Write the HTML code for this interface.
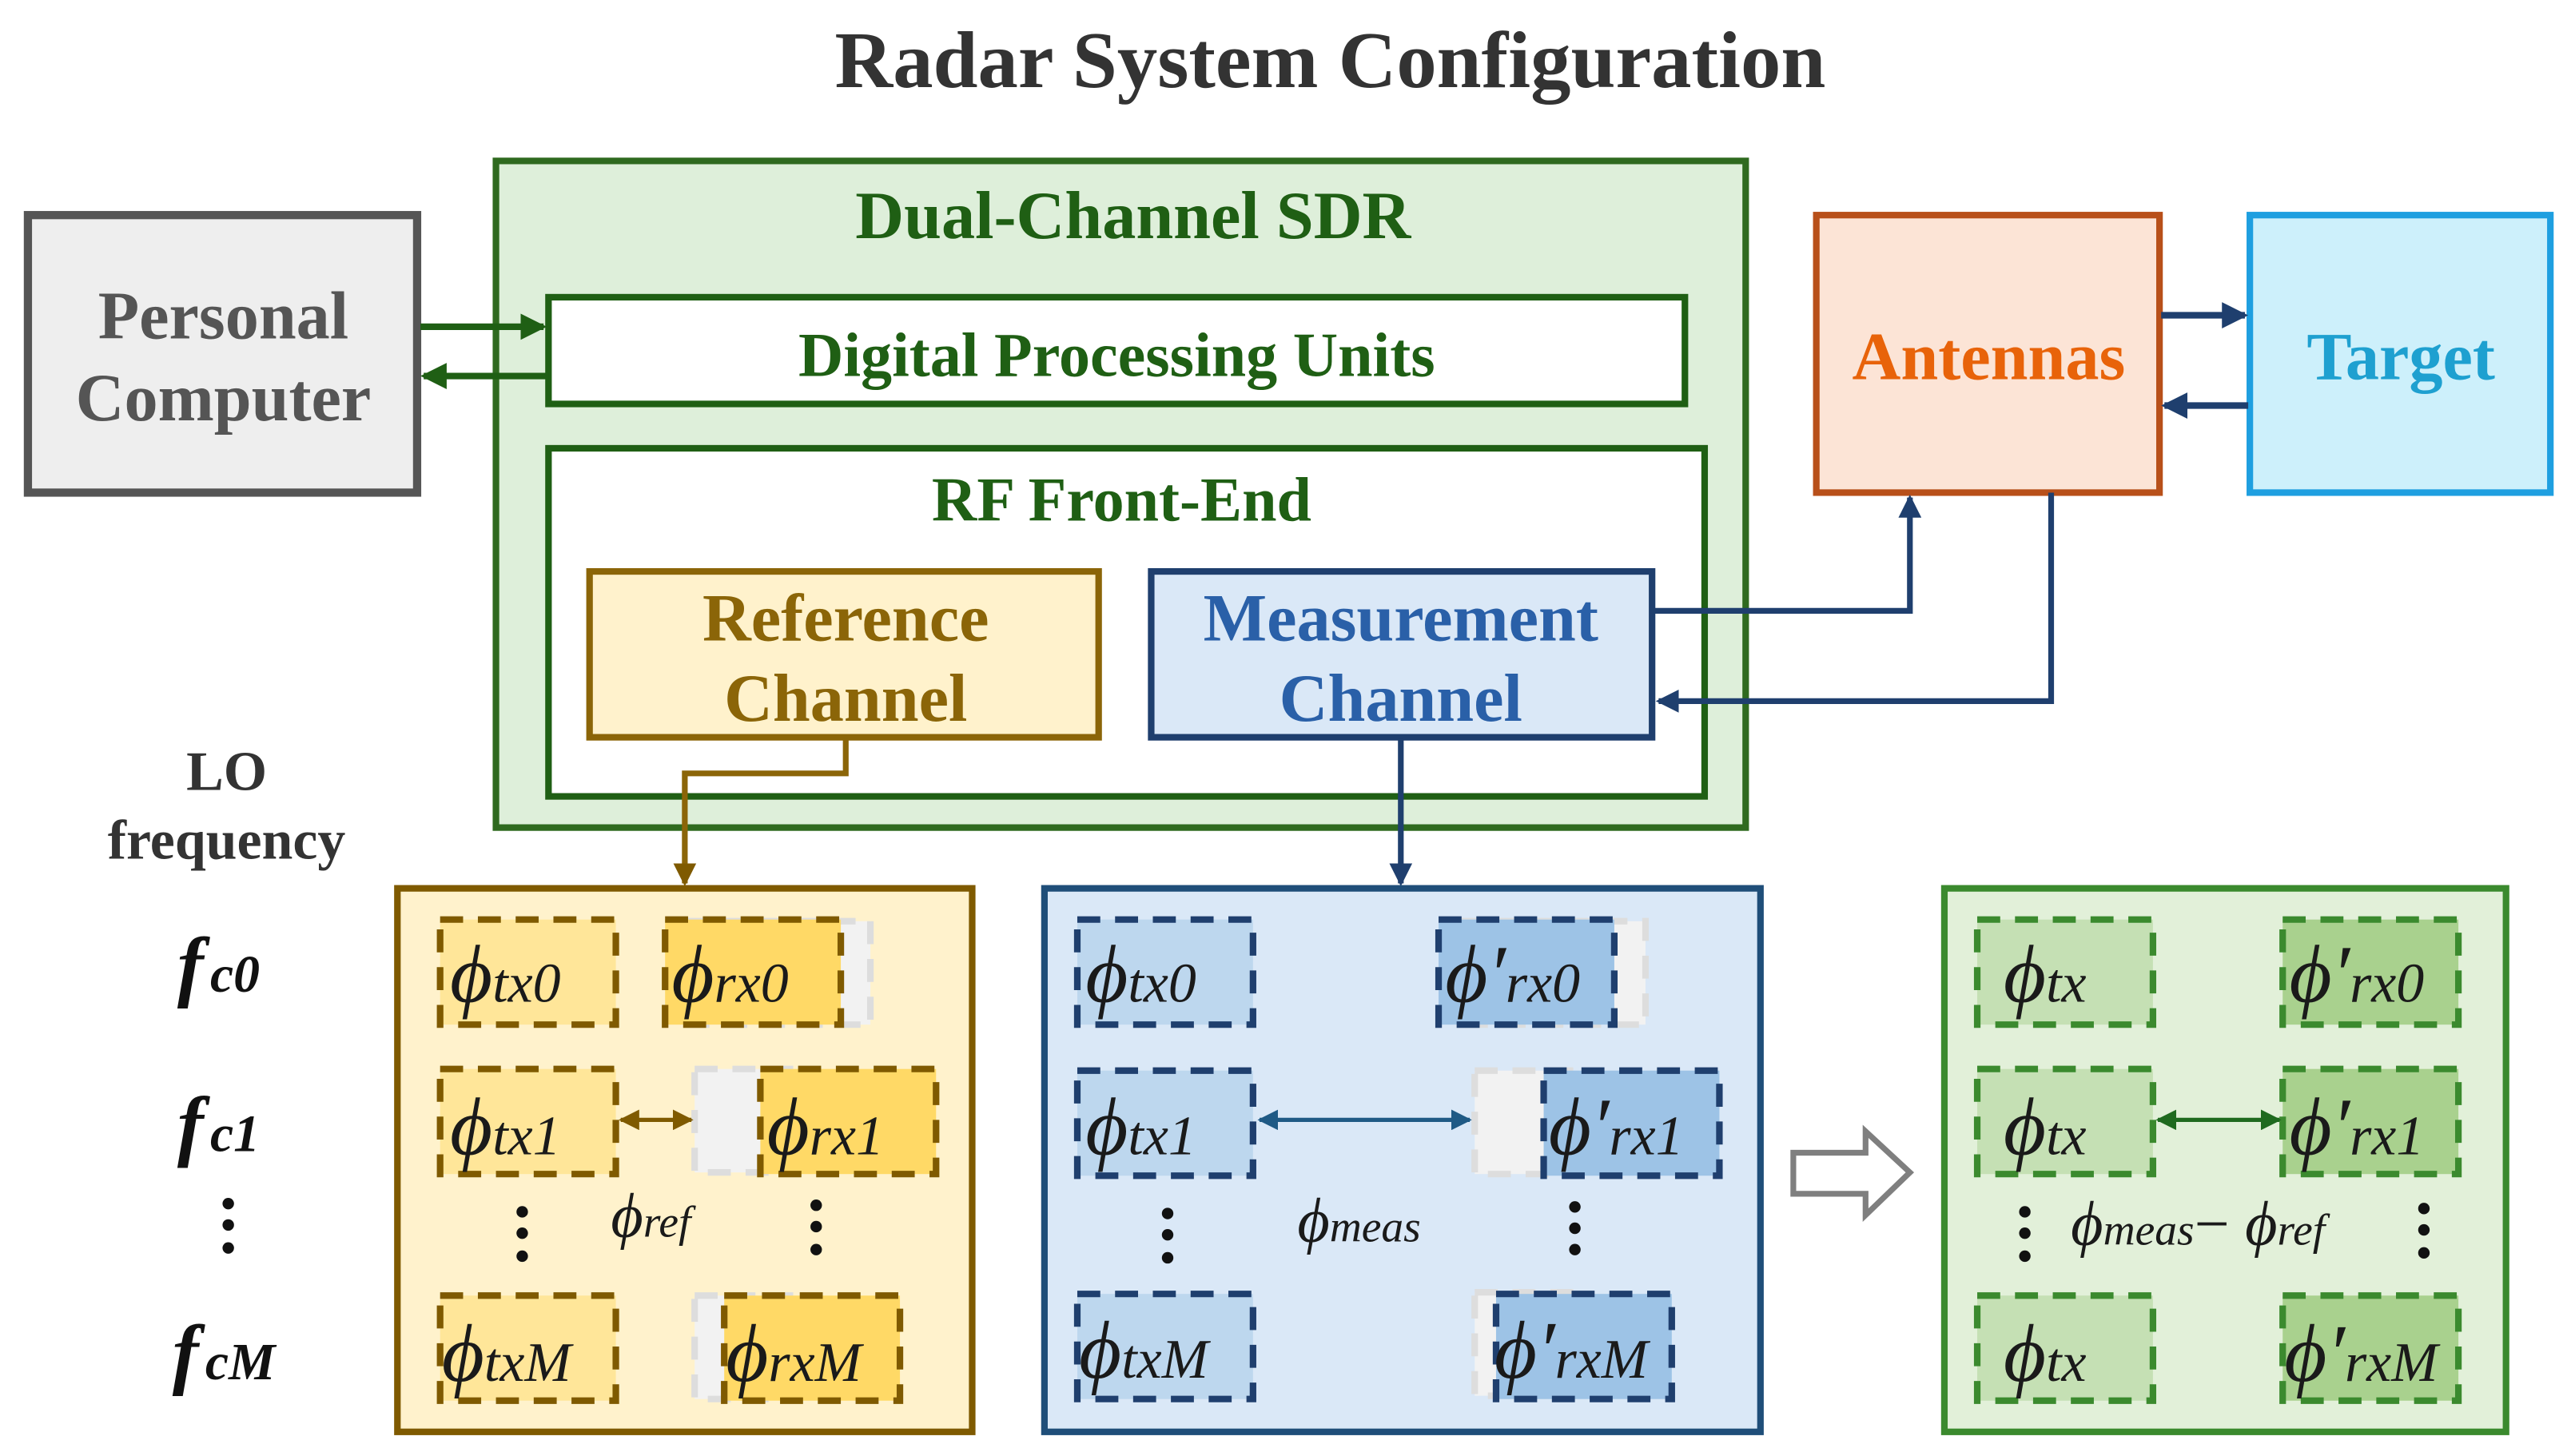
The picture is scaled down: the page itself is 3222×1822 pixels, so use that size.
<!DOCTYPE html>
<html><head><meta charset="utf-8"><style>
html,body{margin:0;padding:0;background:#fff;}
svg{display:block;}
.b{font-family:"Liberation Serif",serif;font-weight:bold;}
.m{font-family:"Liberation Serif",serif;font-style:italic;fill:#1a1a1a;}
</style></head><body>
<svg width="3222" height="1822" viewBox="0 0 1568 886.7" preserveAspectRatio="none" xmlns="http://www.w3.org/2000/svg">
<defs>
<marker id="ag" markerWidth="4" markerHeight="4" refX="3.5" refY="2" orient="auto" markerUnits="strokeWidth"><path d="M0,0 L4,2 L0,4 z" fill="#1f5f14"/></marker>
<marker id="ab" markerWidth="4" markerHeight="4" refX="3.5" refY="2" orient="auto" markerUnits="strokeWidth"><path d="M0,0 L4,2 L0,4 z" fill="#1f3f6e"/></marker>
<marker id="ay" markerWidth="4" markerHeight="4" refX="3.5" refY="2" orient="auto" markerUnits="strokeWidth"><path d="M0,0 L4,2 L0,4 z" fill="#7f5a00"/></marker>
<marker id="ay2" markerWidth="5" markerHeight="5" refX="4.5" refY="2.5" orient="auto-start-reverse" markerUnits="strokeWidth"><path d="M0,0 L5,2.5 L0,5 z" fill="#7f5a00"/></marker>
<marker id="ab2" markerWidth="5" markerHeight="5" refX="4.5" refY="2.5" orient="auto-start-reverse" markerUnits="strokeWidth"><path d="M0,0 L5,2.5 L0,5 z" fill="#1f5a85"/></marker>
<marker id="ag2" markerWidth="5" markerHeight="5" refX="4.5" refY="2.5" orient="auto-start-reverse" markerUnits="strokeWidth"><path d="M0,0 L5,2.5 L0,5 z" fill="#1f6a1f"/></marker>
</defs>

<text x="810" y="53" text-anchor="middle" class="b" font-size="49" fill="#333">Radar System Configuration</text>

<!-- PC -->
<rect x="17" y="131" width="237" height="169" fill="#eeeeee" stroke="#555" stroke-width="5"/>
<text x="136" y="206" text-anchor="middle" class="b" font-size="41" fill="#555">Personal</text>
<text x="136" y="256" text-anchor="middle" class="b" font-size="41" fill="#555">Computer</text>

<!-- SDR -->
<rect x="302" y="98" width="761" height="406" fill="#deefda" stroke="#2f6a1f" stroke-width="4"/>
<text x="690" y="145" text-anchor="middle" class="b" font-size="41" fill="#1f5f14">Dual-Channel SDR</text>
<rect x="334" y="181" width="692" height="65" fill="#fff" stroke="#1f5f14" stroke-width="4"/>
<text x="680" y="229" text-anchor="middle" class="b" font-size="38" fill="#1f5f14">Digital Processing Units</text>
<rect x="334" y="273" width="704" height="212" fill="#fff" stroke="#1f5f14" stroke-width="4"/>
<text x="683" y="317" text-anchor="middle" class="b" font-size="38" fill="#1f5f14">RF Front-End</text>

<rect x="359" y="348" width="310" height="101" fill="#fff2cc" stroke="#8b6508" stroke-width="4"/>
<text x="515" y="390" text-anchor="middle" class="b" font-size="41" fill="#8b6508">Reference</text>
<text x="515" y="439" text-anchor="middle" class="b" font-size="41" fill="#8b6508">Channel</text>

<rect x="701" y="348" width="305" height="101" fill="#dae8f7" stroke="#1f3f6e" stroke-width="4"/>
<text x="853" y="390" text-anchor="middle" class="b" font-size="41" fill="#2a60a8">Measurement</text>
<text x="853" y="439" text-anchor="middle" class="b" font-size="41" fill="#2a60a8">Channel</text>

<!-- PC arrows -->
<line x1="256" y1="199" x2="331" y2="199" stroke="#1f5f14" stroke-width="4" marker-end="url(#ag)"/>
<line x1="334" y1="229" x2="258" y2="229" stroke="#1f5f14" stroke-width="4" marker-end="url(#ag)"/>

<!-- Antennas / Target -->
<rect x="1106" y="131" width="209" height="169" fill="#fce4d6" stroke="#b8501a" stroke-width="4"/>
<text x="1211" y="231" text-anchor="middle" class="b" font-size="41" fill="#e8630a">Antennas</text>
<rect x="1370" y="131" width="183" height="169" fill="#cdf0fb" stroke="#1e9fe0" stroke-width="4"/>
<text x="1462" y="231" text-anchor="middle" class="b" font-size="41" fill="#1ea0d0">Target</text>
<line x1="1316" y1="192" x2="1367" y2="192" stroke="#1f3f6e" stroke-width="4" marker-end="url(#ab)"/>
<line x1="1369" y1="247" x2="1318" y2="247" stroke="#1f3f6e" stroke-width="4" marker-end="url(#ab)"/>

<polyline points="1007,372 1163,372 1163,303" fill="none" stroke="#1f3f6e" stroke-width="3.5" marker-end="url(#ab)"/>
<polyline points="1249,300 1249,427 1010,427" fill="none" stroke="#1f3f6e" stroke-width="3.5" marker-end="url(#ab)"/>

<polyline points="515,450 515,471 417,471 417,538" fill="none" stroke="#8b6508" stroke-width="3.5" marker-end="url(#ay)"/>
<line x1="853" y1="450" x2="853" y2="538" stroke="#1f3f6e" stroke-width="3.5" marker-end="url(#ab)"/>

<!-- LO labels -->
<text x="138" y="481" text-anchor="middle" class="b" font-size="34" fill="#333">LO</text>
<text x="138" y="523" text-anchor="middle" class="b" font-size="34" fill="#333">frequency</text>
<g class="b" font-style="italic" fill="#111">
<text x="108" y="604" font-size="48">f<tspan font-size="32" dx="4">c0</tspan></text>
<text x="108" y="701" font-size="48">f<tspan font-size="32" dx="4">c1</tspan></text>
<text x="105" y="840" font-size="48">f<tspan font-size="32" dx="4">cM</tspan></text>
</g>
<g fill="#111"><circle cx="139" cy="733" r="3.5"/><circle cx="139" cy="746" r="3.5"/><circle cx="139" cy="760" r="3.5"/></g>

<!-- Yellow panel -->
<rect x="242" y="541" width="350" height="331" fill="#fff2cc" stroke="#7f5a00" stroke-width="4"/>
<g stroke-width="4" stroke-dasharray="14 9">
<rect x="415" y="561" width="115" height="63" fill="#f2f2f2" stroke="#ddd"/>
<rect x="423" y="651" width="60" height="63" fill="#f2f2f2" stroke="#ddd"/>
<rect x="423" y="789" width="60" height="63" fill="#f2f2f2" stroke="#ddd"/>
<rect x="268" y="560" width="107" height="64" fill="#ffe699" stroke="#7f5a00"/>
<rect x="268" y="651" width="107" height="64" fill="#ffe699" stroke="#7f5a00"/>
<rect x="268" y="789" width="107" height="64" fill="#ffe699" stroke="#7f5a00"/>
<rect x="405" y="560" width="107" height="64" fill="#ffd966" stroke="#7f5a00"/>
<rect x="463" y="651" width="107" height="64" fill="#ffd966" stroke="#7f5a00"/>
<rect x="441" y="789" width="107" height="64" fill="#ffd966" stroke="#7f5a00"/>
</g>
<line x1="378" y1="682" x2="421" y2="682" stroke="#7f5a00" stroke-width="2.5" marker-start="url(#ay2)" marker-end="url(#ay2)"/>
<g class="m" font-size="50">
<text x="274" y="610">ϕ<tspan font-size="34">tx0</tspan></text>
<text x="409" y="610">ϕ<tspan font-size="34">rx0</tspan></text>
<text x="274" y="703">ϕ<tspan font-size="34">tx1</tspan></text>
<text x="467" y="703">ϕ<tspan font-size="34">rx1</tspan></text>
<text x="269" y="841">ϕ<tspan font-size="34">txM</tspan></text>
<text x="442" y="841">ϕ<tspan font-size="34">rxM</tspan></text>
<text x="372" y="753" font-size="38">ϕ<tspan font-size="27">ref</tspan></text>
</g>
<g fill="#111"><circle cx="318" cy="738" r="3.5"/><circle cx="318" cy="751" r="3.5"/><circle cx="318" cy="765" r="3.5"/>
<circle cx="497" cy="734" r="3.5"/><circle cx="497" cy="747" r="3.5"/><circle cx="497" cy="761" r="3.5"/></g>

<!-- Blue panel -->
<rect x="636" y="541" width="436" height="331" fill="#dae8f7" stroke="#1f4e79" stroke-width="4"/>
<g stroke-width="4" stroke-dasharray="14 9">
<rect x="885" y="561" width="117" height="63" fill="#f2f2f2" stroke="#ddd"/>
<rect x="898" y="652" width="60" height="63" fill="#f2f2f2" stroke="#ddd"/>
<rect x="898" y="787" width="60" height="63" fill="#f2f2f2" stroke="#ddd"/>
<rect x="656" y="560" width="107" height="64" fill="#bdd7ee" stroke="#1f3f6e"/>
<rect x="656" y="652" width="107" height="64" fill="#bdd7ee" stroke="#1f3f6e"/>
<rect x="656" y="788" width="107" height="64" fill="#bdd7ee" stroke="#1f3f6e"/>
<rect x="876" y="560" width="107" height="64" fill="#9dc3e6" stroke="#1f3f6e"/>
<rect x="940" y="652" width="107" height="64" fill="#9dc3e6" stroke="#1f3f6e"/>
<rect x="911" y="788" width="107" height="64" fill="#9dc3e6" stroke="#1f3f6e"/>
</g>
<line x1="767" y1="682" x2="895" y2="682" stroke="#1f5a85" stroke-width="2.5" marker-start="url(#ab2)" marker-end="url(#ab2)"/>
<g class="m" font-size="50">
<text x="661" y="610">ϕ<tspan font-size="34">tx0</tspan></text>
<text x="880" y="610">ϕ′<tspan font-size="34">rx0</tspan></text>
<text x="661" y="703">ϕ<tspan font-size="34">tx1</tspan></text>
<text x="943" y="703">ϕ′<tspan font-size="34">rx1</tspan></text>
<text x="657" y="839">ϕ<tspan font-size="34">txM</tspan></text>
<text x="910" y="839">ϕ′<tspan font-size="34">rxM</tspan></text>
<text x="790" y="756" font-size="38">ϕ<tspan font-size="27">meas</tspan></text>
</g>
<g fill="#111"><circle cx="711" cy="739" r="3.5"/><circle cx="711" cy="752" r="3.5"/><circle cx="711" cy="766" r="3.5"/>
<circle cx="959" cy="735" r="3.5"/><circle cx="959" cy="748" r="3.5"/><circle cx="959" cy="761" r="3.5"/></g>

<!-- hollow arrow -->
<path d="M1092,702 L1136,702 L1136,689 L1163,714 L1136,740 L1136,727 L1092,727 Z" fill="#fff" stroke="#7f7f7f" stroke-width="3.5"/>

<!-- Green panel -->
<rect x="1184" y="541" width="342" height="331" fill="#e2f0d9" stroke="#3b8a2e" stroke-width="4"/>
<g stroke-width="4" stroke-dasharray="14 9" stroke="#3b8a2e">
<rect x="1204" y="560" width="107" height="64" fill="#c5e0b4"/>
<rect x="1204" y="651" width="107" height="64" fill="#c5e0b4"/>
<rect x="1204" y="789" width="107" height="64" fill="#c5e0b4"/>
<rect x="1390" y="560" width="107" height="64" fill="#a9d18e"/>
<rect x="1390" y="651" width="107" height="64" fill="#a9d18e"/>
<rect x="1390" y="789" width="107" height="64" fill="#a9d18e"/>
</g>
<line x1="1314" y1="682" x2="1388" y2="682" stroke="#1f6a1f" stroke-width="2.5" marker-start="url(#ag2)" marker-end="url(#ag2)"/>
<g class="m" font-size="50">
<text x="1220" y="610">ϕ<tspan font-size="34">tx</tspan></text>
<text x="1394" y="610">ϕ′<tspan font-size="34">rx0</tspan></text>
<text x="1220" y="703">ϕ<tspan font-size="34">tx</tspan></text>
<text x="1394" y="703">ϕ′<tspan font-size="34">rx1</tspan></text>
<text x="1220" y="841">ϕ<tspan font-size="34">tx</tspan></text>
<text x="1391" y="841">ϕ′<tspan font-size="34">rxM</tspan></text>
<text x="1261" y="758" font-size="38">ϕ<tspan font-size="27">meas</tspan><tspan font-style="normal">− </tspan>ϕ<tspan font-size="27">ref</tspan></text>
</g>
<g fill="#111"><circle cx="1233" cy="738" r="3.5"/><circle cx="1233" cy="751" r="3.5"/><circle cx="1233" cy="765" r="3.5"/>
<circle cx="1476" cy="736" r="3.5"/><circle cx="1476" cy="749" r="3.5"/><circle cx="1476" cy="763" r="3.5"/></g>
</svg>
</body></html>
